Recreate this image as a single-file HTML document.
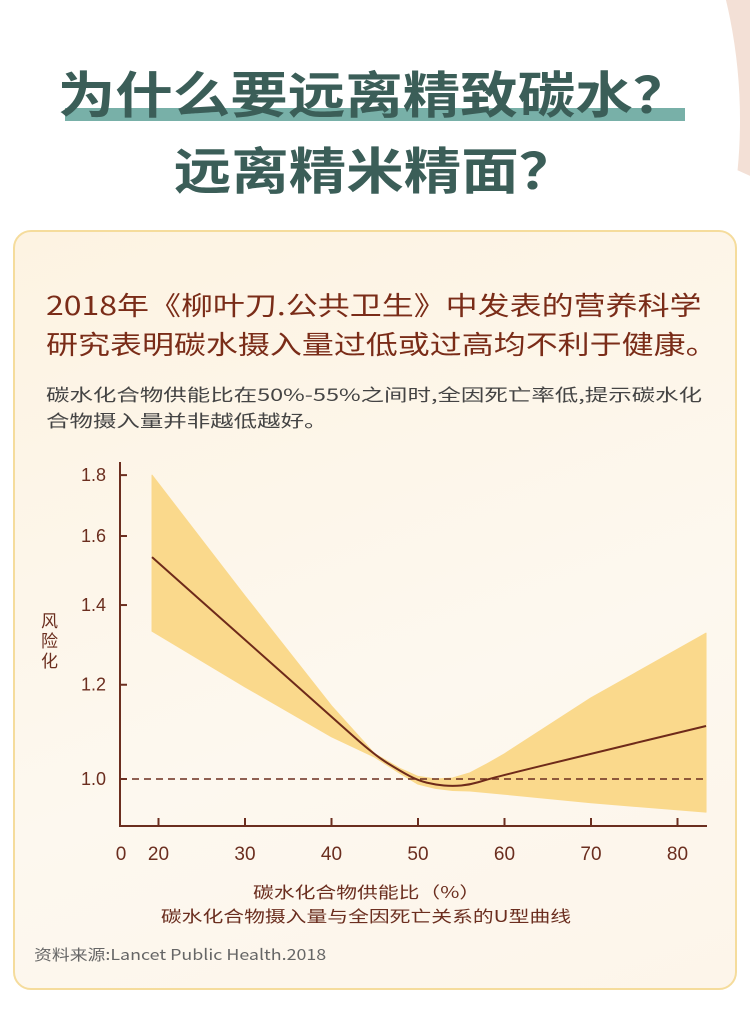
<!DOCTYPE html>
<html><head><meta charset="utf-8"><style>
body{margin:0;width:750px;height:1025px;overflow:hidden;background:#fff;position:relative;font-family:"Liberation Sans","Noto Sans CJK SC",sans-serif}
.abs{position:absolute}
</style></head><body>
<div class="abs" style="left:0;top:0;width:750px;height:1025px;overflow:hidden">
<div class="abs" style="left:560px;top:-420px;width:620px;height:620px;border-radius:50%;background:#f3e0d6"></div>
<div class="abs" style="left:-300px;top:-400px;width:1040px;height:1040px;border-radius:50%;background:#fff"></div>
</div>
<div class="abs" style="left:65px;top:108px;width:620px;height:13px;background:#78b0a8"></div>
<div class="abs" style="left:0;width:750px;top:62px;text-align:center;font-size:50px;font-weight:bold;color:#3b5e58;line-height:60px;font-family:'Noto Sans CJK SC',sans-serif;transform:scaleX(1.15);transform-origin:382px 0">为什么要远离精致碳水？</div>
<div class="abs" style="left:0;width:750px;top:138px;text-align:center;font-size:50px;font-weight:bold;color:#3b5e58;line-height:60px;font-family:'Noto Sans CJK SC',sans-serif;transform:scaleX(1.15);transform-origin:375px 0">远离精米精面？</div>
<div class="abs" style="left:13px;top:230px;width:720px;height:756px;border:2px solid #f5dc9c;border-radius:18px;background:linear-gradient(160deg,#fdf3e2,#fdf8ef 60%,#fdf5ea)"></div>
<div class="abs" style="left:46px;top:285px;font-size:26px;line-height:39px;color:#7a2c18;font-family:'Noto Sans CJK SC',sans-serif;white-space:nowrap;transform:scaleX(1.23);transform-origin:0 0">2018年《柳叶刀.公共卫生》中发表的营养科学<br>研究表明碳水摄入量过低或过高均不利于健康。</div>
<div class="abs" style="left:46px;top:381px;font-size:17px;line-height:26px;color:#444;font-family:'Noto Sans CJK SC',sans-serif;white-space:nowrap;transform:scaleX(1.38);transform-origin:0 0">碳水化合物供能比在50%-55%之间时,全因死亡率低,提示碳水化<br>合物摄入量并非越低越好。</div>
<svg class="abs" style="left:0;top:0" width="750" height="1025" id="chart"></svg>
<div class="abs" style="left:41px;top:610px;width:20px;font-size:17px;line-height:20px;color:#6b2e1f;font-family:'Noto Sans CJK SC',sans-serif">风险化</div>
<div class="abs" style="left:0;width:750px;top:879px;text-align:center;font-size:16px;color:#6b2e1f;font-family:'Noto Sans CJK SC',sans-serif;transform:scaleX(1.3);transform-origin:403px 0;text-indent:0">碳水化合物供能比（%）</div>
<div class="abs" style="left:0;width:750px;top:903px;text-align:center;font-size:16px;color:#6b2e1f;font-family:'Noto Sans CJK SC',sans-serif;transform:scaleX(1.3);transform-origin:405px 0">碳水化合物摄入量与全因死亡关系的U型曲线</div>
<div class="abs" style="left:34px;top:944px;font-size:15px;color:#666;font-family:'Noto Sans CJK SC',sans-serif;transform:scaleX(1.19);transform-origin:0 0;white-space:nowrap">资料来源:Lancet Public Health.2018</div>
<script>
const xs=[19.25,30,40,45,48,50,52,54,56,58,60,70,83.3];
const center=[1.536,1.309,1.128,1.047,1.015,0.997,0.989,0.986,0.989,0.999,1.008,1.05,1.108];
const upper=[1.80,1.425,1.152,1.05,1.02,1.005,1.0,1.002,1.012,1.03,1.05,1.17,1.326];
const lower=[1.331,1.195,1.085,1.043,1.01,0.99,0.982,0.978,0.977,0.974,0.971,0.955,0.938];
const yTicks=[1.0,1.2,1.4,1.6,1.8];
const yTickLabels=["1.0","1.2","1.4","1.6","1.8"];
const xTicks=[20,30,40,50,60,70,80];
const xTickLabels=["20","30","40","50","60","70","80"];
const X=v=>158.5+(v-20)*8.65;
const Y=v=>779-517*Math.log(v);
const svg=document.getElementById('chart');const NS='http://www.w3.org/2000/svg';
function mk(t,a){const e=document.createElementNS(NS,t);for(const k in a)e.setAttribute(k,a[k]);svg.appendChild(e);return e;}
function smooth(px,py){let s='M'+px[0]+','+py[0];for(let i=1;i<px.length;i++){const mx=(px[i-1]+px[i])/2,my=(py[i-1]+py[i])/2;s+=' Q'+px[i-1]+','+py[i-1]+' '+mx+','+my;}s+=' L'+px[px.length-1]+','+py[py.length-1];return s;}
const C='#6b2e1f';
let d='M'+xs.map((x,i)=>X(x)+','+Y(upper[i])).join('L');
for(let i=xs.length-1;i>=0;i--)d+='L'+X(xs[i])+','+Y(lower[i]);
const band=mk('path',{d:d+'Z',fill:'#fad98c','stroke':'#fad98c','stroke-width':1,'stroke-linejoin':'round'});


const ref=mk('line',{x1:120,x2:707,y1:Y(1),y2:Y(1),stroke:C,'stroke-width':1.5,'stroke-dasharray':'7,5'});


const ln=mk('path',{d:smooth(xs.map(X),center.map(Y)),fill:'none',stroke:'#6e2a1a','stroke-width':2,'stroke-linejoin':'round'});


const ya=mk('line',{x1:120,x2:120,y1:462,y2:826,stroke:C,'stroke-width':2});


const xa=mk('line',{x1:119,x2:707,y1:826,y2:826,stroke:C,'stroke-width':2});


yTicks.forEach((v,i)=>{
 const tk=mk('line',{x1:120,x2:127,y1:Y(v),y2:Y(v),stroke:C,'stroke-width':2});
 
 
 const t=mk('text',{x:106,y:Y(v)+6,'text-anchor':'end','font-size':18,fill:C});
 
 
 t.textContent=yTickLabels[i];
});
xTicks.forEach((v,i)=>{
 const tk=mk('line',{x1:X(v),x2:X(v),y1:818,y2:826,stroke:C,'stroke-width':2});
 
 
 const t=mk('text',{x:X(v),y:860,'text-anchor':'middle','font-size':19,fill:C});
 
 
 t.textContent=xTickLabels[i];
});
const z=mk('text',{x:121,y:860,'text-anchor':'middle','font-size':19,fill:C});


z.textContent='0';
</script>
</body></html>
